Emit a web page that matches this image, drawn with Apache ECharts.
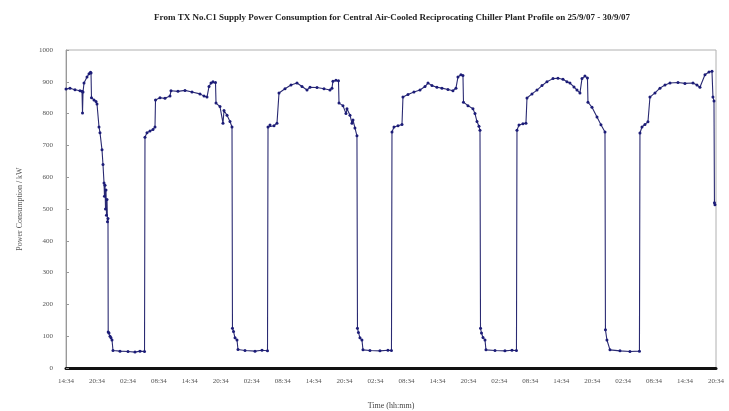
<!DOCTYPE html>
<html>
<head>
<meta charset="utf-8">
<script src="https://cdn.jsdelivr.net/npm/echarts@6/dist/echarts.min.js"></script>
<style>
  html, body { margin: 0; padding: 0; background: #fff; }
  #chart { width: 729px; height: 411px; }
</style>
</head>
<body>
<div id="chart"></div>
<script>
// Elapsed hours since 25/9/07 14:34
const hours = [
  0, 0.78, 1.74, 2.71, 3.10, 3.20, 3.30, 3.49, 4.07, 4.46, 4.75, 4.85, 4.94, 5.43, 5.82, 6.01, 6.40, 6.59, 6.98, 7.17, 7.37,
  7.46, 7.56, 7.66, 7.75, 7.85, 7.95, 8.04, 8.14, 8.18, 8.33, 8.53, 8.72, 8.92, 9.11,
  10.47, 12.02, 13.37, 14.34, 15.22,
  15.31, 15.70, 16.28, 16.86, 17.25, 17.35, 18.22, 19.19, 20.16, 20.35, 21.71, 23.07, 24.42, 25.97, 26.75, 27.33,
  27.72, 28.11, 28.49, 28.98, 29.08, 29.85, 30.43, 30.63, 31.21, 31.79, 32.18,
  32.27, 32.47, 32.76, 33.15, 33.34, 34.70, 36.64, 37.99, 39.06,
  39.16, 39.54, 40.32, 40.90, 41.29, 42.45, 43.61, 44.78, 45.75, 46.72, 47.30, 48.65, 50.01, 51.17, 51.56,
  51.75, 52.33, 52.82, 52.92, 53.69, 54.27, 54.47, 55.05, 55.43, 55.63, 56.01, 56.40,
  56.50, 56.69, 56.98, 57.37, 57.57, 58.92, 60.86, 62.41, 63.09,
  63.19, 63.58, 64.36, 65.13, 65.32, 66.29, 67.45, 68.62, 69.59, 70.17, 70.94, 71.91, 72.88, 74.04, 75.01, 75.59,
  75.98, 76.56, 76.95, 77.05, 77.92, 78.89, 79.28, 79.67, 80.05, 80.25,
  80.35, 80.54, 80.83, 81.22, 81.41, 83.16, 85.09, 86.45, 87.32,
  87.42, 87.81, 88.58, 89.16, 89.36, 90.33, 91.30, 92.27, 93.23, 94.40, 95.37, 96.34, 97.11, 97.69, 98.47, 99.05, 99.63,
  100.02, 100.60, 101.08, 101.18, 101.96, 102.93, 103.70, 104.48,
  104.57, 104.86, 105.45, 107.39, 109.32, 111.16,
  111.26, 111.65, 112.23, 112.81, 113.20, 114.17, 115.14, 116.11, 117.08, 118.63, 119.98, 121.54, 122.31, 122.89,
  123.86, 124.64, 125.22, 125.41, 125.61, 125.70, 125.80
];

// Supply power, kW
const powerKW = [
  877, 880, 875, 872, 870, 802, 868, 896, 915, 925, 930, 928, 850, 843, 838, 830, 758, 740, 686, 640, 582,
  540, 575, 500, 560, 480, 530, 460, 470, 113, 110, 100, 95, 88, 55,
  53, 52, 50, 53, 52,
  726, 740, 745, 750, 758, 843, 850, 848, 855, 872, 870, 873, 868, 862, 855, 852,
  885, 896, 900, 898, 833, 822, 770, 810, 795, 775, 758,
  125, 115, 95, 88, 58, 55, 53, 56, 54,
  758, 764, 762, 770, 865, 878, 890, 896, 885, 874, 883, 882, 878, 874, 880,
  902, 905, 903, 833, 825, 800, 815, 795, 770, 780, 755, 730,
  125, 112, 95, 88, 57, 55, 54, 56, 55,
  742, 758, 762, 766, 852, 860, 868, 874, 885, 896, 888, 883, 880, 876, 872, 880,
  915, 922, 920, 836, 825, 815, 800, 775, 760, 748,
  125, 110, 96, 88, 57, 55, 54, 56, 55,
  748, 764, 768, 770, 849, 862, 874, 888, 900, 910, 911, 908, 900, 896, 884, 874, 865,
  910, 918, 912, 836, 820, 789, 765, 742,
  120, 88, 57, 54, 52, 53,
  739, 758, 766, 774, 852, 865, 880, 890, 896, 898, 895, 896, 890, 883,
  922, 931, 933, 852, 840, 520, 513
];

// Clock labels, one every 6 hours
const timeLabels = [
  '14:34', '20:34', '02:34', '08:34', '14:34', '20:34', '02:34', '08:34',
  '14:34', '20:34', '02:34', '08:34', '14:34', '20:34', '02:34', '08:34',
  '14:34', '20:34', '02:34', '08:34', '14:34', '20:34'
];

const points = hours.map((h, i) => [h, powerKW[i]]);

const chart = echarts.init(document.getElementById('chart'), null, { renderer: 'canvas' });
const serif = 'Liberation Serif';

chart.setOption({
  animation: false,
  backgroundColor: '#fff',
  title: {
    text: 'From TX No.C1 Supply Power Consumption for Central Air-Cooled Reciprocating Chiller Plant Profile on 25/9/07 - 30/9/07',
    left: 387,
    textAlign: 'center',
    top: 8,
    textStyle: { fontFamily: serif, fontSize: 9, fontWeight: 'bold', color: '#222' }
  },
  grid: {
    left: 66, right: 13, top: 50, bottom: 43,
    outerBoundsMode: 'none',
    containLabel: false,
    show: true, borderColor: '#b0b0b0', borderWidth: 1
  },
  xAxis: {
    type: 'value',
    min: 0, max: 126, interval: 6,
    name: 'Time (hh:mm)',
    nameLocation: 'middle',
    nameGap: 34,
    nameTextStyle: { fontFamily: serif, fontSize: 8, color: '#444' },
    axisLine: { show: true, lineStyle: { color: '#111', width: 3 } },
    axisTick: { show: false },
    splitLine: { show: false },
    axisLabel: {
      fontFamily: serif, fontSize: 7, color: '#555', margin: 10,
      formatter: v => timeLabels[Math.round(v / 6)] || ''
    }
  },
  yAxis: {
    type: 'value',
    min: 0, max: 1000, interval: 100,
    name: 'Power Consumption / kW',
    nameLocation: 'middle',
    nameGap: 42,
    nameRotate: 90,
    nameTextStyle: { fontFamily: serif, fontSize: 8, color: '#555' },
    axisLine: { show: true, lineStyle: { color: '#999', width: 1 } },
    axisTick: { show: true, inside: true, length: 3, lineStyle: { color: '#999' } },
    splitLine: { show: false },
    axisLabel: {
      fontFamily: serif, fontSize: 7, color: '#555', margin: 13,
      formatter: v => String(v)
    }
  },
  series: [{
    type: 'line',
    data: points,
    showSymbol: true,
    symbol: 'circle',
    symbolSize: 3,
    itemStyle: { color: '#1c1c78' },
    lineStyle: { color: '#2a2a72', width: 1.1 }
  }]
});
</script>
</body>
</html>
